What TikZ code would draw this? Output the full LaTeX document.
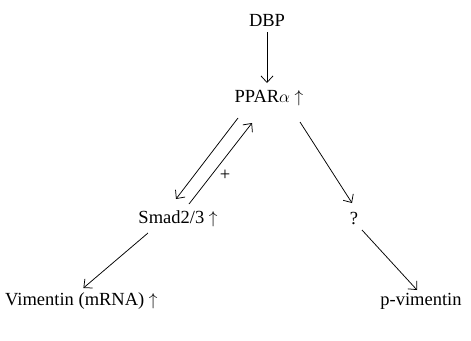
\documentclass[tikz,border=0pt]{standalone}
\usepackage{fontspec}
\setmainfont{Liberation Serif}
\usetikzlibrary{arrows.meta}
\begin{document}
\begin{tikzpicture}[x=1pt,y=-1pt,
  lbl/.style={inner sep=0pt,font=\fontsize{18.5}{22}\selectfont},
  arr/.style={line width=0.75pt,-{Straight Barb[length=6.5pt,width=12pt,line width=0.75pt]}}]
\useasboundingbox (0,0) rectangle (471,340);
\node[lbl] (dbp) at (267,20) {DBP};
\node[lbl] (ppar) at (269,98) {PPAR$\alpha$ $\uparrow$};
\node[lbl] (smad) at (178,219) {Smad2/3 $\uparrow$};
\node[lbl] (q) at (354,219) {?};
\node[lbl,anchor=west] (vim) at (5,301) {Vimentin (mRNA) $\uparrow$};
\node[lbl] (pvim) at (421,301) {p-vimentin};
\node[lbl] (plus) at (225,175) {+};
\draw[arr] ([shift={(0,12)}]dbp.center) -- ([shift={(-2,-15)}]ppar.center);
\draw[arr] ([shift={(-31,20)}]ppar.center) -- ([shift={(-2,-20)}]smad.center);
\draw[arr] ([shift={(11,-15)}]smad.center) -- ([shift={(-17,25)}]ppar.center);
\draw[arr] ([shift={(31,24)}]ppar.center) -- ([shift={(-2,-16)}]q.center);
\draw[arr] ([shift={(8,11)}]q.center) -- ([shift={(-4,-11)}]pvim.center);
\draw[arr] ([shift={(-30,14)}]smad.center) -- ([shift={(2,-13)}]vim.center);
\end{tikzpicture}
\end{document}
